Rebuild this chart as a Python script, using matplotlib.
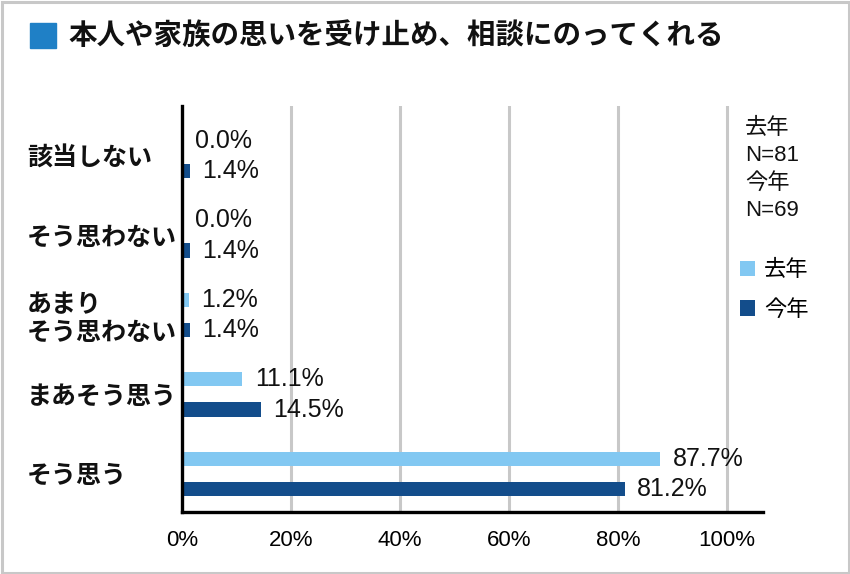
import numpy as np
import matplotlib
matplotlib.use("Agg")
import matplotlib.pyplot as plt
from matplotlib.patches import Rectangle

plt.rcParams['font.family'] = ['Noto Sans CJK JP', 'DejaVu Sans']
num_font = ['Liberation Sans', 'Noto Sans CJK JP']

title = "本人や家族の思いを受け止め、相談にのってくれる"
categories = ["該当しない", "そう思わない", "あまり\nそう思わない", "まあそう思う", "そう思う"]
last_year = [0.0, 0.0, 1.2, 11.1, 87.7]
this_year = [1.4, 1.4, 1.4, 14.5, 81.2]
series_names = ["去年", "今年"]
n_note = "去年\nN=81\n今年\nN=69"
xticks = [0, 20, 40, 60, 80, 100]

light = "#82c8f2"
dark = "#134d8b"
grid_grey = "#c8c8c8"

W, H = 850, 574
fig = plt.figure(figsize=(W / 100, H / 100), dpi=100)
ax = fig.add_axes([182 / W, 1 - 512 / H, (763 - 182) / W, (512 - 106) / H])

y = np.arange(len(categories))
off = 0.19
bh = 0.18
b1 = ax.barh(y - off, last_year, height=bh, color=light, label=series_names[0], zorder=3)
b2 = ax.barh(y + off, this_year, height=bh, color=dark, label=series_names[1], zorder=3)

for bars, vals in ((b1, last_year), (b2, this_year)):
    ax.bar_label(bars, labels=[f"{v:.1f}%" for v in vals], padding=9,
                 fontsize=18, family=num_font, color="#111111")

ax.set_xlim(0, 106.6)
ax.set_ylim(4.48, -0.63)
ax.set_xticks(xticks)
ax.set_xticklabels([f"{t}%" for t in xticks], family=num_font, fontsize=16)
ax.tick_params(axis='x', length=0, pad=13)
ax.set_yticks(y)
ax.set_yticklabels(categories, ha='left', fontsize=18, fontweight='bold', color="#111111")
ax.tick_params(axis='y', length=0, pad=111.5)

for t in xticks[1:]:
    ax.axvline(t, color=grid_grey, lw=2.2, zorder=1)

for s in ('top', 'right'):
    ax.spines[s].set_visible(False)
for s in ('left', 'bottom'):
    ax.spines[s].set_linewidth(2.4)
    ax.spines[s].set_color("black")
    ax.spines[s].set_zorder(4)

# title with blue square
fig.patches.append(Rectangle((30 / W, 1 - 48 / H), 26 / W, 25 / H,
                             transform=fig.transFigure, color="#1f80c6"))
fig.text(68 / W, 1 - 36 / H, title, fontsize=20.5, fontweight='bold',
         va='center', ha='left', color="#111111")

fig.text(745 / W, 1 - 118 / H, n_note, fontsize=16, va='top', ha='left',
         linespacing=1.4, family=num_font, color="#111111")

ax.legend(loc='upper left', bbox_to_anchor=(740 / W, 1 - 258 / H),
          bbox_transform=fig.transFigure, frameon=False, fontsize=16,
          handlelength=0.68, handleheight=0.68, handletextpad=0.4,
          labelspacing=0.75, borderpad=0, borderaxespad=0)

fig.patches.append(Rectangle((1.5 / W, 1.5 / H), 1 - 3 / W, 1 - 3 / H,
                             transform=fig.transFigure, fill=False,
                             edgecolor=grid_grey, lw=2.2))

fig.savefig("out.png", dpi=100)
